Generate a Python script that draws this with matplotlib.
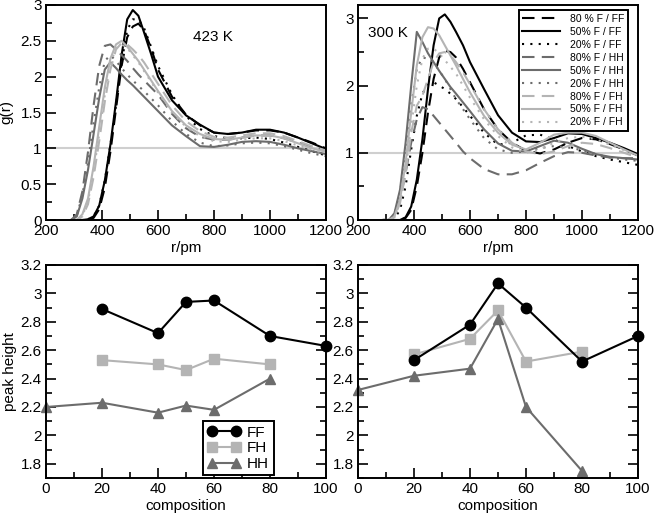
import matplotlib
matplotlib.use("Agg")
import matplotlib.pyplot as plt
from matplotlib.ticker import MultipleLocator, FuncFormatter

plt.rcParams['font.family'] = ['Liberation Sans', 'DejaVu Sans']

# ---------------- data: g(r) curves ----------------
r_grid = [290, 310, 330, 350, 370, 390, 410, 430, 450, 470, 490, 510, 530, 550, 575,
          600, 650, 700, 750, 800, 850, 900, 950, 1000, 1050, 1100, 1150, 1200]

# 423 K
g423_FF80 = [0, 0, 0, 0, 0.03, 0.15, 0.45, 0.95, 1.55, 2.15, 2.55, 2.7, 2.74, 2.65, 2.4, 2.1, 1.72, 1.47, 1.32, 1.22, 1.2, 1.22, 1.25, 1.25, 1.22, 1.15, 1.08, 1.0]
g423_FF50 = [0, 0, 0, 0.01, 0.05, 0.2, 0.55, 1.05, 1.65, 2.3, 2.8, 2.93, 2.85, 2.62, 2.32, 2.0, 1.67, 1.46, 1.33, 1.22, 1.2, 1.22, 1.26, 1.26, 1.22, 1.15, 1.07, 0.99]
g423_FF20 = [0, 0, 0, 0.01, 0.05, 0.2, 0.55, 1.05, 1.6, 2.2, 2.65, 2.8, 2.8, 2.68, 2.42, 2.15, 1.75, 1.45, 1.27, 1.17, 1.14, 1.14, 1.15, 1.13, 1.08, 1.02, 0.96, 0.9]
g423_HH80 = [0, 0.08, 0.4, 0.95, 1.6, 2.15, 2.43, 2.45, 2.38, 2.3, 2.22, 2.12, 2.03, 1.95, 1.85, 1.75, 1.48, 1.28, 1.16, 1.12, 1.12, 1.15, 1.18, 1.18, 1.14, 1.08, 1.02, 0.96]
g423_HH50 = [0, 0.05, 0.3, 0.7, 1.2, 1.7, 2.1, 2.2, 2.12, 2.03, 1.95, 1.88, 1.8, 1.72, 1.62, 1.52, 1.32, 1.17, 1.03, 1.02, 1.05, 1.09, 1.1, 1.09, 1.05, 1.0, 0.96, 0.92]
g423_HH20 = [0, 0.06, 0.35, 0.8, 1.35, 1.85, 2.22, 2.3, 2.22, 2.12, 2.03, 1.95, 1.87, 1.8, 1.7, 1.6, 1.38, 1.2, 1.08, 1.03, 1.04, 1.07, 1.08, 1.07, 1.03, 0.98, 0.93, 0.89]
g423_FH80 = [0, 0, 0.05, 0.22, 0.6, 1.1, 1.65, 2.1, 2.38, 2.47, 2.45, 2.38, 2.3, 2.2, 2.05, 1.9, 1.6, 1.38, 1.24, 1.16, 1.15, 1.18, 1.21, 1.21, 1.17, 1.1, 1.03, 0.97]
g423_FH50 = [0, 0, 0.08, 0.3, 0.75, 1.3, 1.85, 2.25, 2.45, 2.5, 2.42, 2.32, 2.22, 2.1, 1.95, 1.8, 1.52, 1.32, 1.2, 1.13, 1.12, 1.15, 1.18, 1.18, 1.14, 1.07, 1.0, 0.95]
g423_FH20 = [0, 0, 0.06, 0.26, 0.68, 1.2, 1.75, 2.18, 2.4, 2.45, 2.4, 2.3, 2.2, 2.08, 1.93, 1.78, 1.5, 1.3, 1.17, 1.1, 1.09, 1.12, 1.14, 1.14, 1.1, 1.04, 0.98, 0.93]

# 300 K
g300_FF80 = [0, 0, 0, 0, 0.03, 0.15, 0.5, 1.0, 1.6, 2.1, 2.42, 2.52, 2.5, 2.42, 2.25, 2.05, 1.65, 1.35, 1.15, 1.03, 0.99, 1.05, 1.15, 1.22, 1.2, 1.13, 1.05, 0.96]
g300_FF50 = [0, 0, 0, 0, 0.04, 0.2, 0.6, 1.2, 1.95, 2.6, 3.0, 3.06, 2.95, 2.8, 2.6, 2.35, 1.95, 1.56, 1.3, 1.17, 1.16, 1.22, 1.29, 1.28, 1.22, 1.15, 1.07, 0.98]
g300_FF20 = [0, 0, 0.02, 0.15, 0.5, 1.05, 1.55, 1.88, 2.02, 2.05, 2.0, 1.95, 1.88, 1.8, 1.68, 1.55, 1.3, 1.12, 1.15, 1.26, 1.27, 1.2, 1.1, 1.02, 0.95, 0.9, 0.86, 0.82]
g300_HH80 = [0, 0, 0.05, 0.3, 0.7, 1.15, 1.5, 1.68, 1.65, 1.55, 1.45, 1.35, 1.25, 1.15, 1.02, 0.92, 0.76, 0.68, 0.68, 0.74, 0.85, 0.95, 1.01, 1.0, 0.96, 0.93, 0.92, 0.92]
g300_HH50 = [0, 0, 0.1, 0.45, 1.15, 2.0, 2.8, 2.65, 2.48, 2.35, 2.22, 2.1, 1.98, 1.88, 1.75, 1.62, 1.35, 1.14, 1.03, 1.02, 1.1, 1.18, 1.15, 1.06, 0.98, 0.94, 0.92, 0.9]
g300_HH20 = [0, 0, 0.08, 0.4, 1.0, 1.7, 2.25, 2.42, 2.4, 2.35, 2.22, 2.1, 1.95, 1.8, 1.65, 1.5, 1.22, 1.05, 1.0, 1.02, 1.07, 1.1, 1.08, 1.04, 0.98, 0.93, 0.9, 0.88]
g300_FH80 = [0, 0, 0.04, 0.25, 0.7, 1.3, 1.7, 1.85, 2.1, 2.35, 2.48, 2.5, 2.45, 2.35, 2.2, 2.02, 1.65, 1.35, 1.15, 1.02, 0.98, 1.02, 1.1, 1.15, 1.13, 1.07, 1.0, 0.93]
g300_FH50 = [0, 0, 0.05, 0.3, 0.85, 1.6, 2.3, 2.72, 2.87, 2.85, 2.75, 2.6, 2.45, 2.3, 2.1, 1.9, 1.55, 1.3, 1.12, 1.05, 1.15, 1.27, 1.3, 1.3, 1.25, 1.15, 1.05, 0.96]
g300_FH20 = [0, 0, 0.04, 0.25, 0.75, 1.4, 2.0, 2.4, 2.55, 2.55, 2.48, 2.38, 2.28, 2.18, 2.0, 1.82, 1.5, 1.25, 1.08, 1.0, 1.05, 1.15, 1.22, 1.24, 1.2, 1.12, 1.04, 0.95]

curve_labels = ['80 % F / FF', '50% F / FF', '20% F / FF',
                '80% F / HH', '50% F / HH', '20% F / HH',
                '80% F / FH', '50% F / FH', '20% F / FH']

# ---------------- data: peak heights ----------------
comp_FF = [20, 40, 50, 60, 80, 100]
comp_FH = [20, 40, 50, 60, 80]
comp_HH = [0, 20, 40, 50, 60, 80]

peak423_FF = [2.89, 2.72, 2.94, 2.95, 2.70, 2.63]
peak423_FH = [2.53, 2.50, 2.46, 2.54, 2.50]
peak423_HH = [2.20, 2.23, 2.16, 2.21, 2.18, 2.40]

peak300_FF = [2.53, 2.78, 3.07, 2.90, 2.52, 2.70]
peak300_FH = [2.57, 2.68, 2.88, 2.52, 2.59]
peak300_HH = [2.32, 2.42, 2.47, 2.82, 2.20, 1.75]

# ---------------- styles ----------------
C_FF = 'black'
C_HH = '#6c6c6c'
C_FH = '#b4b4b4'
C_REF = '#cfcfcf'
DASH = (0, (6, 3.5))
DOT = (0, (1, 3))

fig = plt.figure(figsize=(6.55, 5.16), dpi=100)
W, H = 655.0, 516.0

def ax_at(x0, x1, y0, y1):
    return fig.add_axes([x0 / W, 1 - y1 / H, (x1 - x0) / W, (y1 - y0) / H])

ax_tl = ax_at(46, 326, 5, 220)
ax_tr = ax_at(358, 638, 5, 220)
ax_bl = ax_at(46, 326, 265, 478)
ax_br = ax_at(358, 638, 265, 478)

FS = 11

def style(ax, right=False):
    for s in ax.spines.values():
        s.set_linewidth(1.4)
    ax.tick_params(which='both', direction='in', top=False, right=right,
                   labelsize=FS, width=1.2, pad=3)
    ax.tick_params(which='major', length=7)
    ax.tick_params(which='minor', length=4)

gfmt = FuncFormatter(lambda v, p: ('%g' % round(v, 3)))

def draw_gr(ax, curves, ylim, ymaj, ymin, text, tx, ty, legend=False):
    ax.axhline(1.0, color=C_REF, lw=1.5, zorder=1)
    styles = [(C_FF, DASH), (C_FF, '-'), (C_FF, DOT),
              (C_HH, DASH), (C_HH, '-'), (C_HH, DOT),
              (C_FH, DASH), (C_FH, '-'), (C_FH, DOT)]
    for g, (c, ls), lab in zip(curves, styles, curve_labels):
        ax.plot(r_grid, g, color=c, ls=ls, lw=1.5, label=lab, zorder=2)
    ax.set_xlim(200, 1200)
    ax.set_ylim(*ylim)
    ax.xaxis.set_major_locator(MultipleLocator(200))
    ax.xaxis.set_minor_locator(MultipleLocator(100))
    ax.yaxis.set_major_locator(MultipleLocator(ymaj))
    ax.yaxis.set_minor_locator(MultipleLocator(ymin))
    ax.yaxis.set_major_formatter(gfmt)
    ax.set_xlabel('r/pm', fontsize=FS, labelpad=2)
    ax.text(tx, ty, text, fontsize=FS, ha='left', va='center')
    style(ax)
    if legend:
        leg = ax.legend(loc='upper right', bbox_to_anchor=(0.965, 0.975),
                        fontsize=7.5, frameon=True, fancybox=False,
                        edgecolor='black', framealpha=1, handlelength=3.6,
                        handletextpad=1.0, labelspacing=0.28,
                        borderpad=0.35, borderaxespad=0)
        leg.get_frame().set_linewidth(1.4)

draw_gr(ax_tl, [g423_FF80, g423_FF50, g423_FF20, g423_HH80, g423_HH50, g423_HH20,
                g423_FH80, g423_FH50, g423_FH20],
        (0, 3), 0.5, 0.25, '423 K', 725, 2.55)
ax_tl.set_ylabel('g(r)', fontsize=FS, labelpad=5)

draw_gr(ax_tr, [g300_FF80, g300_FF50, g300_FF20, g300_HH80, g300_HH50, g300_HH20,
                g300_FH80, g300_FH50, g300_FH20],
        (0, 3.2), 1, 0.5, '300 K', 236, 2.78, legend=True)

def draw_peak(ax, ff, fh, hh, legend=False):
    ax.plot(comp_FF, ff, color=C_FF, marker='o', ms=7.5, lw=1.5, label='FF', clip_on=False, zorder=3)
    ax.plot(comp_FH, fh, color=C_FH, marker='s', ms=6.5, lw=1.5, label='FH', clip_on=False, zorder=2)
    ax.plot(comp_HH, hh, color=C_HH, marker='^', ms=7.5, lw=1.5, label='HH', clip_on=False, zorder=2)
    ax.set_xlim(0, 100)
    ax.set_ylim(1.7, 3.2)
    ax.xaxis.set_major_locator(MultipleLocator(20))
    ax.xaxis.set_minor_locator(MultipleLocator(10))
    ax.yaxis.set_major_locator(MultipleLocator(0.2))
    ax.yaxis.set_minor_locator(MultipleLocator(0.1))
    ax.yaxis.set_major_formatter(gfmt)
    ax.set_xlabel('composition', fontsize=FS, labelpad=2)
    style(ax, right=True)
    if legend:
        leg = ax.legend(loc='lower left', bbox_to_anchor=(0.56, 0.012),
                        fontsize=FS, frameon=True, fancybox=False,
                        edgecolor='black', framealpha=1, numpoints=2,
                        handlelength=2.2, handletextpad=0.4, labelspacing=0.1,
                        borderpad=0.3, borderaxespad=0)
        leg.get_frame().set_linewidth(1.4)

draw_peak(ax_bl, peak423_FF, peak423_FH, peak423_HH, legend=True)
ax_bl.set_ylabel('peak height', fontsize=FS, labelpad=3)
draw_peak(ax_br, peak300_FF, peak300_FH, peak300_HH)

fig.savefig('out.png', dpi=100)
